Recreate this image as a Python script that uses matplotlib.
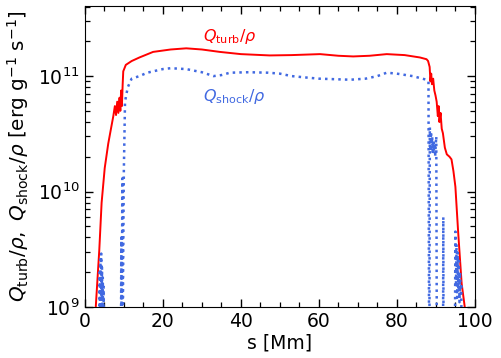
import numpy as np
import matplotlib
matplotlib.use("Agg")
import matplotlib.pyplot as plt

# Q_turb / rho  (red solid)
s_turb = [2.5, 2.8, 3.7, 4.3, 5.1, 6.0, 6.7, 7.3, 7.7, 8.0, 8.3, 8.6, 8.9, 9.1, 9.3, 9.5,
          9.7, 9.85, 10.5, 12, 14, 17.5, 22, 26, 30, 34.6, 40, 47.4, 53, 60.3, 65,
          68.8, 73, 77.4, 82, 85.9, 87.6, 88.0, 88.4, 88.6, 88.8, 89.0, 89.3, 89.6,
          89.9, 90.2, 90.5, 90.7, 90.9, 91.2, 91.5, 91.8, 92.3, 92.8, 93.5, 94.0,
          94.5, 95.0, 95.7, 96.6, 97.4, 97.6]
q_turb = [8e8, 1.0e9, 3.1e9, 8e9, 1.6e10, 2.6e10, 3.5e10, 4.5e10, 5.5e10, 4.6e10, 6e10,
          4.8e10, 6.5e10, 5e10, 7.5e10, 5.5e10, 8.5e10, 1.1e11, 1.25e11, 1.35e11,
          1.45e11, 1.62e11, 1.7e11, 1.74e11, 1.7e11, 1.62e11, 1.55e11, 1.51e11,
          1.52e11, 1.55e11, 1.5e11, 1.48e11, 1.5e11, 1.55e11, 1.52e11, 1.45e11,
          1.4e11, 1.35e11, 1.2e11, 0.9e11, 1.05e11, 0.85e11, 0.95e11, 0.75e11,
          0.68e11, 0.6e11, 0.45e11, 0.55e11, 0.4e11, 0.48e11, 0.35e11, 0.32e11,
          0.24e11, 0.21e11, 0.2e11, 0.19e11, 0.15e11, 1.1e10, 4.5e9, 1.6e9, 1.0e9, 8e8]

# Q_shock / rho  (blue dotted)
s_shock = [3.6, 3.8, 3.9, 4.0, 4.1, 4.2, 4.3, 4.4, 4.5, 4.6, 4.7, 4.8, 5.0,
           9.2, 9.35, 9.45, 9.6, 9.75, 10.0, 10.3, 11.0, 12, 14, 16, 20, 22, 26,
           30, 33, 35, 37.2, 42, 47, 50, 53, 57, 60, 64, 68, 72, 75, 77.4, 80, 84,
           87.6, 88.1, 88.3, 88.45, 88.6, 88.75, 88.9, 89.05, 89.2, 89.35, 89.5,
           89.65, 89.8, 89.95, 90.1, 90.3, 91.8, 91.9, 92.0, 94.8, 95.0, 95.15,
           95.3, 95.45, 95.6, 95.75, 95.9, 96.05, 96.2, 96.35, 96.5, 96.7]
q_shock = [1e8, 2.0e9, 5e8, 2.6e9, 6e8, 2.9e9, 1.2e9, 2.2e9, 8e8, 1.8e9, 7e8, 1.5e9, 1e8,
           1e8, 4e9, 1e8, 1.3e10, 1e9, 1.5e10, 6e10, 8e10, 9.5e10, 1.0e11, 1.07e11,
           1.15e11, 1.17e11, 1.15e11, 1.08e11, 1.0e11, 1.02e11, 1.07e11, 1.08e11,
           1.07e11, 1.05e11, 1.0e11, 0.97e11, 0.95e11, 0.94e11, 0.93e11, 0.95e11,
           1.0e11, 1.07e11, 1.05e11, 1.0e11, 0.93e11, 0.9e11, 1e8, 3.6e10, 2.2e10,
           3.3e10, 2.4e10, 3.0e10, 2.1e10, 2.8e10, 2.2e10, 2.6e10, 2.0e10, 2.5e10,
           3.0e10, 1e8, 1e8, 6e9, 1e8, 1e8, 4.5e9, 1.5e9, 3.5e9, 1.2e9, 3e9, 1.4e9,
           2.5e9, 1.1e9, 2e9, 1.3e9, 1.6e9, 1e8]

fs = 13.5
plt.rcParams['font.family'] = ['DejaVu Sans']
plt.rcParams['mathtext.fontset'] = 'dejavusans'

fig = plt.figure(figsize=(5.02, 3.58), dpi=100)
ax = fig.add_axes([0.169, 0.1425, 0.777, 0.8405])

ax.plot(s_turb, q_turb, color='red', lw=1.4)
ax.plot(s_shock, q_shock, color='royalblue', lw=1.8, ls=':')

ax.set_yscale('log')
ax.set_xlim(0, 100)
ax.set_ylim(1e9, 4.04e11)
ax.set_xticks([0, 20, 40, 60, 80, 100])
ax.xaxis.set_minor_locator(matplotlib.ticker.MultipleLocator(5))
ax.tick_params(which='both', direction='in', top=True, right=True, labelsize=fs)
ax.tick_params(which='major', length=6, width=1)
ax.tick_params(which='minor', length=3.5, width=0.9)

ax.set_xlabel('s [Mm]', fontsize=fs, labelpad=2)
ax.set_ylabel(r'$Q_\mathrm{turb}/\rho,\ Q_\mathrm{shock}/\rho$ [erg g$^{-1}$ s$^{-1}$]',
              fontsize=14.4, labelpad=5)

ax.text(30.3, 2.2e11, r'$Q_\mathrm{turb}/\rho$', color='red', fontsize=11.5, va='center')
ax.text(30.3, 6.6e10, r'$Q_\mathrm{shock}/\rho$', color='royalblue', fontsize=11.5, va='center')

fig.savefig('out.png', dpi=100)
